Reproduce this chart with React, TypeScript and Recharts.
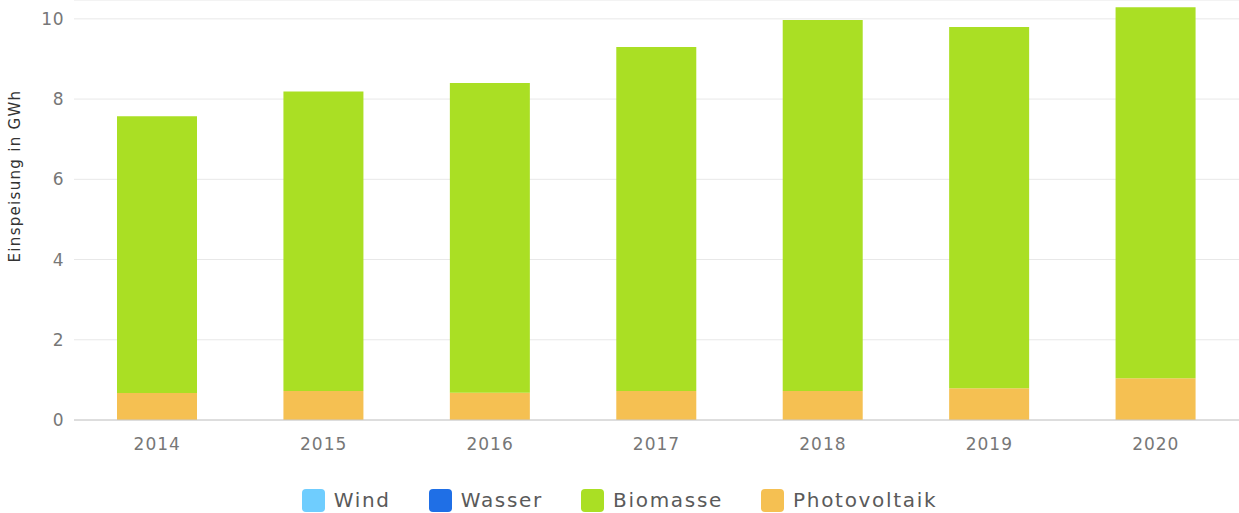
import { BarChart, Bar, XAxis, YAxis, CartesianGrid, Legend, Label } from 'recharts'

// Einspeisung je Energieträger, Werte in GWh
const years = ['2014', '2015', '2016', '2017', '2018', '2019', '2020']
const wind = [0, 0, 0, 0, 0, 0, 0]
const wasser = [0, 0, 0, 0, 0, 0, 0]
const biomasse = [6.9, 7.47, 7.72, 8.58, 9.25, 9.01, 9.25]
const photovoltaik = [0.67, 0.72, 0.68, 0.72, 0.72, 0.79, 1.04]
const yTicks = [0, 2, 4, 6, 8, 10]

const SERIES = [
  { key: 'wind', name: 'Wind', color: '#6FCDFE' },
  { key: 'wasser', name: 'Wasser', color: '#1F6FE6' },
  { key: 'biomasse', name: 'Biomasse', color: '#AADF24' },
  { key: 'photovoltaik', name: 'Photovoltaik', color: '#F5C052' }
]

const FONT = '"DejaVu Sans", sans-serif'

const data = years.map((year, i) => ({
  year,
  wind: wind[i],
  wasser: wasser[i],
  biomasse: biomasse[i],
  photovoltaik: photovoltaik[i]
}))

function LegendContent() {
  return (
    <div
      style={{
        display: 'flex',
        justifyContent: 'center',
        alignItems: 'center',
        paddingTop: 38,
        fontFamily: FONT,
        fontSize: 20,
        letterSpacing: 1.7,
        color: '#5a5a5a'
      }}
    >
      {SERIES.map((s) => (
        <div key={s.key} style={{ display: 'flex', alignItems: 'center', margin: '0 19px' }}>
          <span
            style={{
              display: 'inline-block',
              width: 23,
              height: 23,
              borderRadius: 4,
              background: s.color,
              marginRight: 9
            }}
          />
          <span>{s.name}</span>
        </div>
      ))}
    </div>
  )
}

function AxisTitle({ viewBox }: any) {
  const cx = viewBox.x + 15
  const cy = viewBox.y + viewBox.height / 2 - 34
  return (
    <text
      x={cx}
      y={cy}
      transform={`rotate(-90, ${cx}, ${cy})`}
      textAnchor="middle"
      dominantBaseline="central"
      fontFamily={FONT}
      fontSize={15}
      letterSpacing={1.3}
      fill="#333"
    >
      Einspeisung in GWh
    </text>
  )
}

export default function App() {
  return (
    <div style={{ position: 'absolute', left: 0, top: 0, background: '#fff' }}>
      <BarChart width={1239} height={513} data={data} margin={{ top: 0, right: 0, bottom: 0, left: 0 }}>
        <CartesianGrid vertical={false} stroke="#e8e8e8" />
        <XAxis
          dataKey="year"
          height={30}
          tickLine={false}
          axisLine={{ stroke: '#c8c8c8' }}
          tickMargin={12}
          tick={{ fill: '#777', fontSize: 17, fontFamily: FONT, letterSpacing: 1 }}
        />
        <YAxis
          width={74}
          domain={[0, 10.47]}
          ticks={yTicks}
          allowDataOverflow
          axisLine={false}
          tickLine={false}
          tickMargin={4}
          tick={{ fill: '#777', fontSize: 17, fontFamily: FONT, letterSpacing: 0.5 }}
        >
          <Label content={<AxisTitle />} />
        </YAxis>
        <Legend verticalAlign="bottom" height={63} content={<LegendContent />} />
        <Bar dataKey="photovoltaik" name="Photovoltaik" stackId="a" fill="#F5C052" barSize={80} isAnimationActive={false} />
        <Bar dataKey="biomasse" name="Biomasse" stackId="a" fill="#AADF24" barSize={80} isAnimationActive={false} />
        <Bar dataKey="wasser" name="Wasser" stackId="a" fill="#1F6FE6" barSize={80} isAnimationActive={false} />
        <Bar dataKey="wind" name="Wind" stackId="a" fill="#6FCDFE" barSize={80} isAnimationActive={false} />
      </BarChart>
    </div>
  )
}
